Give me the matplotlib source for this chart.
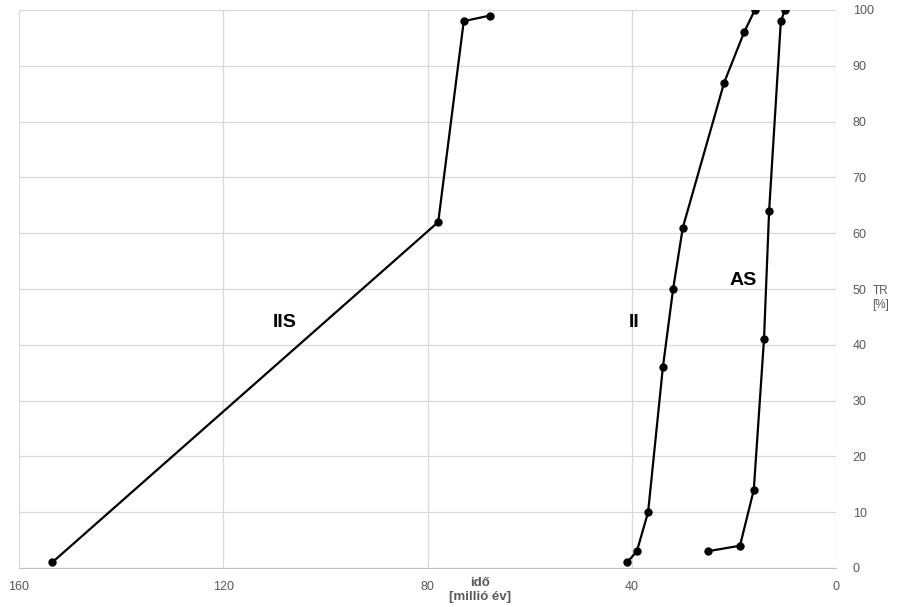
import matplotlib
matplotlib.use("Agg")
import matplotlib.pyplot as plt

plt.rcParams['font.family'] = ['Liberation Sans Narrow', 'Liberation Sans', 'DejaVu Sans']

# IIS series
iis_x = [153.5, 77.9, 72.9, 67.8]
iis_y = [1, 62, 98, 99]
# II series
ii_x = [40.9, 39.0, 36.8, 33.9, 31.9, 30.0, 21.9, 18.0, 15.9]
ii_y = [1, 3, 10, 36, 50, 61, 87, 96, 100]
# AS series
as_x = [25.1, 18.8, 16.1, 14.1, 13.1, 10.8, 10.0]
as_y = [3, 4, 14, 41, 64, 98, 100]

x_ticks = [160, 120, 80, 40, 0]
y_ticks = list(range(0, 101, 10))

fig = plt.figure(figsize=(9.01, 6.07), dpi=100)
ax = fig.add_axes([19/901, 1 - 568/607, (836-19)/901, (568-10)/607])

for xs, ys in [(iis_x, iis_y), (ii_x, ii_y), (as_x, as_y)]:
    ax.plot(xs, ys, color='black', lw=1.6, marker='o', ms=5, zorder=3)

ax.set_xlim(160, 0)
ax.set_ylim(0, 100)
ax.set_xticks(x_ticks)
ax.set_yticks(y_ticks)
ax.grid(True, color='#d9d9d9', lw=0.9)
ax.set_axisbelow(True)
for s in ['top', 'left', 'right']:
    ax.spines[s].set_visible(False)
ax.spines['bottom'].set_color('#bfbfbf')
ax.yaxis.tick_right()
ax.tick_params(axis='both', length=0, colors='#595959', labelsize=9)
ax.tick_params(axis='x', pad=9)
ax.tick_params(axis='y', pad=12)

ax.text(108, 44, 'IIS', fontsize=14, fontweight='bold', ha='center', va='center')
ax.text(39.6, 44, 'II', fontsize=14, fontweight='bold', ha='center', va='center')
ax.text(18.2, 51.5, 'AS', fontsize=14, fontweight='bold', ha='center', va='center')

fig.text(480/901, 1 - 590/607, 'idő\n[millió év]', ha='center', va='center',
         fontsize=9.5, color='#595959', fontweight='bold', linespacing=1.2)
fig.text(881/901, 1 - 298/607, 'TR\n[%]', ha='center', va='center',
         fontsize=8.5, color='#595959', linespacing=1.2)

fig.savefig('out.png', dpi=100)
